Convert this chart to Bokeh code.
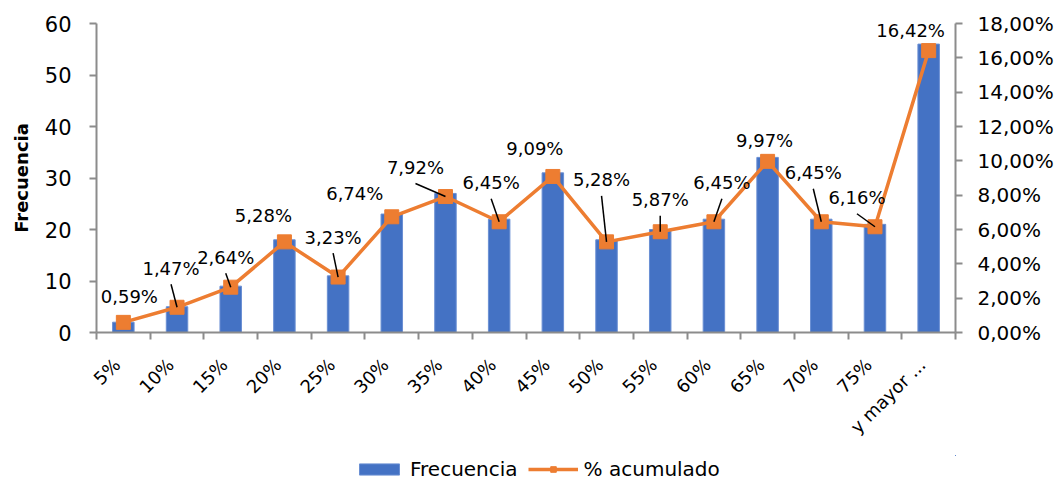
from bokeh.plotting import figure
from bokeh.layouts import column
from bokeh.models import (Range1d, LinearAxis, FixedTicker, Legend, LegendItem,
                          ColumnDataSource)
from bokeh.core.properties import value
from bokeh.embed import file_html
from bokeh.resources import INLINE

# ---------------- data ----------------
categories = ["5%", "10%", "15%", "20%", "25%", "30%", "35%", "40%", "45%",
              "50%", "55%", "60%", "65%", "70%", "75%", "y mayor ..."]
frecuencia = [2, 5, 9, 18, 11, 23, 27, 22, 31, 18, 20, 22, 34, 22, 21, 56]
pct_acumulado = [0.59, 1.47, 2.64, 5.28, 3.23, 6.74, 7.92, 6.45, 9.09,
                 5.28, 5.87, 6.45, 9.97, 6.45, 6.16, 16.42]
pct_labels = ["0,59%", "1,47%", "2,64%", "5,28%", "3,23%", "6,74%", "7,92%",
              "6,45%", "9,09%", "5,28%", "5,87%", "6,45%", "9,97%", "6,45%",
              "6,16%", "16,42%"]
left_ticks = [0, 10, 20, 30, 40, 50, 60]
right_ticks = [0, 2, 4, 6, 8, 10, 12, 14, 16, 18]
right_tick_labels = ["0,00%", "2,00%", "4,00%", "6,00%", "8,00%", "10,00%",
                     "12,00%", "14,00%", "16,00%", "18,00%"]

# ---------------- label placement (screen px, up positive) ----------------
lab_dx = [6, -6, -5, -21, -5, -37, -30, -8, -18, -5, 0, 8, -3, -8, -18, -18]
lab_dy = [26, 39, 30, 26, 40, 23, 29, 39, 28, 62, 32, 39, 21, 49, 29, 20]
has_leader = [0, 1, 1, 0, 1, 0, 1, 1, 0, 1, 1, 1, 0, 1, 1, 0]
XLAB_SHIFT = 0.12   # category units, moves rotated tick labels left

# ---------------- layout ----------------
W, H = 1060, 455
LEG_H = 26
BL, BR, BT, BB = 96, 105, 23, 123
FW, FH = W - BL - BR, H - BT - BB
n = len(categories)
px_x = FW / n
px_y = FH / 18.0

BLUE = "#4472C4"
ORANGE = "#ED7D31"
AXIS = "#8c8c8c"
FONT = "DejaVu Sans"

xc = [i + 0.5 for i in range(n)]

p = figure(width=W, height=H, output_backend="svg", toolbar_location=None,
           x_range=Range1d(0, n), y_range=Range1d(0, 60),
           min_border_left=BL, min_border_right=BR, min_border_top=BT,
           min_border_bottom=BB)
p.outline_line_color = None
p.xgrid.grid_line_color = None
p.ygrid.grid_line_color = None
p.extra_y_ranges = {"pct": Range1d(0, 18)}

bars = p.vbar(x=xc, top=frecuencia, width=0.4, fill_color=BLUE,
              line_color="#6a8fd3", line_width=1)

line = p.line(xc, pct_acumulado, y_range_name="pct", line_color=ORANGE,
              line_width=3.5)
marks = p.scatter(xc, pct_acumulado, y_range_name="pct", marker="square",
                  size=14, fill_color=ORANGE, line_color=ORANGE)

# leader lines
sx0, sy0, sx1, sy1 = [], [], [], []
for i in range(n):
    if has_leader[i]:
        sx0.append(xc[i] + lab_dx[i] / px_x)
        sy0.append(pct_acumulado[i] + (lab_dy[i] - 16) / px_y)
        sx1.append(xc[i])
        sy1.append(pct_acumulado[i])
p.segment(sx0, sy0, sx1, sy1, y_range_name="pct", line_color="black",
          line_width=1.5)

lsrc = ColumnDataSource(dict(x=xc, y=pct_acumulado, t=pct_labels,
                             dx=lab_dx, dy=[-d for d in lab_dy]))
p.text(x="x", y="y", text="t", x_offset="dx", y_offset="dy", source=lsrc,
       y_range_name="pct", text_font=value(FONT), text_font_size="18px",
       text_align="center", text_baseline="middle", text_color="black")

# x axis
xt = [c - XLAB_SHIFT for c in xc]
xa = p.xaxis[0]
xa.ticker = FixedTicker(ticks=xt, minor_ticks=list(range(n + 1)))
xa.major_label_overrides = {xt[i]: categories[i] for i in range(n)}
xa.major_label_orientation = 0.7854
xa.major_tick_line_color = None
xa.minor_tick_out = 7
xa.minor_tick_in = 0
xa.minor_tick_line_color = AXIS
xa.minor_tick_line_width = 2
xa.axis_line_color = AXIS
xa.axis_line_width = 2
xa.major_label_text_font = FONT
xa.major_label_text_font_size = "18px"
xa.major_label_text_color = "black"
xa.major_label_standoff = 22

# left axis
ya = p.yaxis[0]
ya.ticker = FixedTicker(ticks=left_ticks)
ya.axis_label = "Frecuencia"
ya.axis_label_text_font = FONT
ya.axis_label_text_font_style = "bold"
ya.axis_label_text_font_size = "18px"
ya.axis_label_text_color = "black"
ya.axis_label_standoff = 10
ya.major_label_text_font = FONT
ya.major_label_text_font_size = "21px"
ya.major_label_text_color = "black"
ya.major_label_standoff = 18
ya.major_tick_out = 7
ya.major_tick_in = 0
ya.minor_tick_line_color = None
ya.major_tick_line_color = AXIS
ya.major_tick_line_width = 2
ya.axis_line_color = AXIS
ya.axis_line_width = 2

# right axis
ra = LinearAxis(y_range_name="pct", ticker=FixedTicker(ticks=right_ticks))
ra.major_label_overrides = {right_ticks[i]: right_tick_labels[i]
                            for i in range(len(right_ticks))}
ra.major_label_text_font = FONT
ra.major_label_text_font_size = "20px"
ra.major_label_text_color = "black"
ra.major_label_standoff = 15
ra.major_tick_out = 7
ra.major_tick_in = 0
ra.minor_tick_line_color = None
ra.major_tick_line_color = AXIS
ra.major_tick_line_width = 2
ra.axis_line_color = AXIS
ra.axis_line_width = 2
p.add_layout(ra, "right")

# ---------------- legend strip (series drawn far outside its view) ----------------
q = figure(width=W, height=LEG_H, output_backend="svg", toolbar_location=None,
           x_range=Range1d(-1000, -999), y_range=Range1d(-1000, -999),
           x_axis_location=None, y_axis_location=None, min_border=0)
q.outline_line_color = None
q.xgrid.grid_line_color = None
q.ygrid.grid_line_color = None
lb = q.vbar(x=xc, top=frecuencia, width=0.4, fill_color=BLUE,
            line_color="#6a8fd3", line_width=1)
ll = q.line(xc, pct_acumulado, line_color=ORANGE, line_width=3.5)
lm = q.scatter(xc, pct_acumulado, marker="square", size=14,
               fill_color=ORANGE, line_color=ORANGE)
legend = Legend(items=[LegendItem(label="Frecuencia", renderers=[lb]),
                       LegendItem(label="% acumulado", renderers=[ll, lm])],
                orientation="horizontal", location=(258, 0),
                glyph_width=50, glyph_height=14, label_height=14,
                padding=0, margin=0, spacing=10, label_standoff=6,
                border_line_color=None, background_fill_alpha=0,
                label_text_font=FONT, label_text_font_size="20px",
                label_text_color="black")
q.add_layout(legend, "center")

layout = column(p, q, spacing=0)
open("out.html", "w").write(file_html(layout, INLINE))
